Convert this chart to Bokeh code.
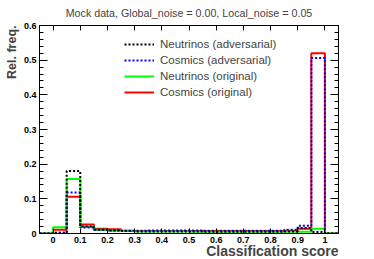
import numpy as np
from bokeh.plotting import figure
from bokeh.models import (Range1d, LinearAxis, FixedTicker, Title, Legend, LegendItem)
from bokeh.embed import file_html
from bokeh.resources import INLINE

# ---- data -------------------------------------------------------------
title_text = "Mock data, Global_noise = 0.00, Local_noise = 0.05"
x_title = "Classification score"
y_title = "Rel. freq."

bin_edges = list(np.round(np.linspace(-0.05, 1.05, 23), 2))

neutrinos_adv = [0, 0.002, 0.180, 0.020, 0.011, 0.009, 0.007, 0.006, 0.006, 0.006, 0.006,
                 0.006, 0.005, 0.005, 0.005, 0.005, 0.005, 0.005, 0.006, 0.016, 0.004, 0]
cosmics_adv = [0, 0.002, 0.118, 0.017, 0.011, 0.009, 0.008, 0.008, 0.009, 0.009, 0.009,
               0.009, 0.008, 0.008, 0.008, 0.008, 0.008, 0.008, 0.011, 0.022, 0.506, 0]
neutrinos_orig = [0, 0.018, 0.157, 0.020, 0.011, 0.009, 0.007, 0.006, 0.006, 0.006, 0.006,
                  0.005, 0.005, 0.005, 0.005, 0.005, 0.005, 0.005, 0.005, 0.005, 0.014, 0]
cosmics_orig = [0, 0.011, 0.106, 0.026, 0.014, 0.012, 0.008, 0.007, 0.007, 0.007, 0.007,
                0.007, 0.007, 0.007, 0.007, 0.007, 0.007, 0.007, 0.008, 0.014, 0.520, 0]

series_names = ["Neutrinos (adversarial)", "Cosmics (adversarial)",
                "Neutrinos (original)", "Cosmics (original)"]

x_ticks = [0, 0.1, 0.2, 0.3, 0.4, 0.5, 0.6, 0.7, 0.8, 0.9, 1.0]
x_tick_labels = ["0", "0.1", "0.2", "0.3", "0.4", "0.5", "0.6", "0.7", "0.8", "0.9", "1"]
y_ticks = [0, 0.1, 0.2, 0.3, 0.4, 0.5, 0.6]
y_tick_labels = ["0", "0.1", "0.2", "0.3", "0.4", "0.5", "0.6"]
y_minor = [0.02, 0.04, 0.06, 0.08, 0.12, 0.14, 0.16, 0.18, 0.22, 0.24, 0.26, 0.28,
           0.32, 0.34, 0.36, 0.38, 0.42, 0.44, 0.46, 0.48, 0.52, 0.54, 0.56, 0.58]

# ---- figure -----------------------------------------------------------
FONT = "Liberation Sans"
p = figure(frame_width=299, frame_height=208, output_backend="svg", toolbar_location=None,
           x_range=Range1d(-0.05, 1.05), y_range=Range1d(0, 0.6),
           x_axis_location=None, y_axis_location=None,
           min_border_left=37, min_border_right=38, min_border_top=25, min_border_bottom=26)
p.grid.visible = False
p.outline_line_color = "black"
p.outline_line_width = 1
p.background_fill_color = "white"
p.border_fill_color = "white"

p.title.text = title_text
p.title.text_font = FONT
p.title.text_font_size = "10.7px"
p.title.text_font_style = "normal"
p.title.align = "center"
p.title.vertical_align = "top"
p.title.standoff = 10


def style_axis(ax, ticks, labels, tick_in, minor_in, show_labels):
    ax.axis_line_color = "black"
    ax.major_tick_in = tick_in
    ax.major_tick_out = 0
    ax.minor_tick_in = minor_in
    ax.minor_tick_out = 0
    ax.major_tick_line_color = "black"
    ax.minor_tick_line_color = "black"
    ax.major_label_text_font = FONT
    ax.major_label_text_font_style = "bold"
    if show_labels:
        ax.major_label_text_font_size = "9px"
        ax.major_label_text_color = "black"
        ax.major_label_standoff = 3
    else:
        ax.major_label_text_font_size = "0px"
        ax.major_label_text_color = None
        ax.major_label_standoff = 0
    ax.major_label_overrides = {t: l for t, l in zip(ticks, labels)}


xb = LinearAxis(ticker=FixedTicker(ticks=x_ticks))
style_axis(xb, x_ticks, x_tick_labels, 5, 0, True)
p.add_layout(xb, "below")
xa = LinearAxis(ticker=FixedTicker(ticks=x_ticks))
style_axis(xa, x_ticks, x_tick_labels, 5, 0, False)
p.add_layout(xa, "above")

yl = LinearAxis(ticker=FixedTicker(ticks=y_ticks, minor_ticks=y_minor))
style_axis(yl, y_ticks, y_tick_labels, 8, 4, True)
p.add_layout(yl, "left")
yr = LinearAxis(ticker=FixedTicker(ticks=y_ticks, minor_ticks=y_minor))
style_axis(yr, y_ticks, y_tick_labels, 8, 4, False)
p.add_layout(yr, "right")

# axis titles (ROOT style: right / top aligned)
xt = Title(text=x_title, align="right", vertical_align="top", text_font=FONT,
           text_font_size="14px", text_font_style="bold", standoff=0)
try:
    xt.standoff = -5
except Exception:
    xt.standoff = 0
p.add_layout(xt, "below")
p.add_layout(Title(text=y_title, align="right", text_font=FONT, text_font_size="12.5px",
                   text_font_style="bold", standoff=4), "left")

# ---- histograms -------------------------------------------------------
def ext(v):
    return list(v) + [0]

r_co = p.step(bin_edges, ext(cosmics_orig), mode="after", line_color="#ff0000", line_width=2)
r_no = p.step(bin_edges, ext(neutrinos_orig), mode="after", line_color="#00ff00", line_width=2)
r_ca = p.step(bin_edges, ext(cosmics_adv), mode="after", line_color="#0000ff", line_width=2,
              line_dash="2 2")
r_na = p.step(bin_edges, ext(neutrinos_adv), mode="after", line_color="#000000", line_width=2,
              line_dash="2 2")

legend = Legend(items=[LegendItem(label=series_names[0], renderers=[r_na]),
                       LegendItem(label=series_names[1], renderers=[r_ca]),
                       LegendItem(label=series_names[2], renderers=[r_no]),
                       LegendItem(label=series_names[3], renderers=[r_co])],
                location=(85, 133), padding=0, margin=0, spacing=0,
                glyph_width=30, glyph_height=16, label_height=16, label_standoff=6,
                label_text_font=FONT, label_text_font_size="11.5px",
                border_line_color=None, background_fill_alpha=0)
p.add_layout(legend)

open("out.html", "w").write(file_html(p, INLINE))
